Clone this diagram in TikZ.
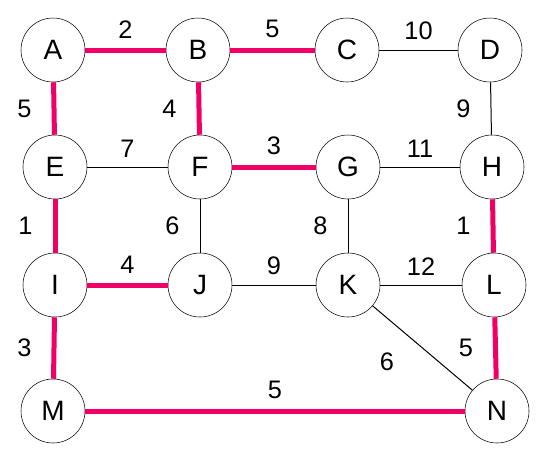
\documentclass[tikz,border=0pt]{standalone}
\usepackage{fontspec}
\setmainfont{Liberation Sans}
\usepackage{tikz}
\usetikzlibrary{positioning}
\definecolor{treered}{RGB}{240,0,100}

\begin{document}
\begin{tikzpicture}[
    x=0.75pt, y=-0.75pt,
    vertex/.style={circle, draw, thin, minimum size=48pt, inner sep=0pt,
                   font=\fontsize{21}{22}\selectfont},
    edge/.style={draw, line width=0.75pt},
    tree/.style={draw=treered, line width=3.75pt},
    wt/.style={font=\fontsize{19}{20}\selectfont, inner sep=2pt},
    wtup/.style={wt, above=5pt},
    wtleft/.style={wt, left=13pt}
]
\useasboundingbox (0,0) rectangle (545,455);
% Nodes
\node[vertex] (a) at (53,50)   {A};
\node[vertex] (b) at (198,50)  {B};
\node[vertex] (c) at (347,50)  {C};
\node[vertex] (d) at (490,50)  {D};
\node[vertex] (e) at (55,167)  {E};
\node[vertex] (f) at (200,167) {F};
\node[vertex] (g) at (348,167) {G};
\node[vertex] (h) at (492,167) {H};
\node[vertex] (i) at (55,285)  {I};
\node[vertex] (j) at (200,285) {J};
\node[vertex] (k) at (348,285) {K};
\node[vertex] (l) at (494,285) {L};
\node[vertex] (m) at (53,411)  {M};
\node[vertex] (n) at (497,411) {N};

% Edges not in the tree
\draw[edge] (c) -- node[wtup] {10} (d);
\draw[edge] (d) -- node[wtleft] {9} (h);
\draw[edge] (e) -- node[wtup] {7} (f);
\draw[edge] (f) -- node[wtleft] {6} (j);
\draw[edge] (g) -- node[wtup] {11} (h);
\draw[edge] (g) -- node[wtleft] {8} (k);
\draw[edge] (j) -- node[wtup] {9} (k);
\draw[edge] (k) -- node[wtup] {12} (l);
\draw[edge] (k) -- node[wt, below left=1pt and 19pt] {6} (n);

% Tree edges
\draw[tree] (a) -- node[wtup, text=black] {2} (b);
\draw[tree] (b) -- node[wtup, text=black] {5} (c);
\draw[tree] (a) -- node[wtleft, text=black] {5} (e);
\draw[tree] (b) -- node[wtleft, text=black] {4} (f);
\draw[tree] (f) -- node[wtup, text=black] {3} (g);
\draw[tree] (e) -- node[wtleft, text=black] {1} (i);
\draw[tree] (i) -- node[wtup, text=black] {4} (j);
\draw[tree] (i) -- node[wtleft, text=black] {3} (m);
\draw[tree] (m) -- node[wtup, text=black] {5} (n);
\draw[tree] (h) -- node[wtleft, text=black] {1} (l);
\draw[tree] (l) -- node[wtleft, text=black] {5} (n);
\end{tikzpicture}
\end{document}
